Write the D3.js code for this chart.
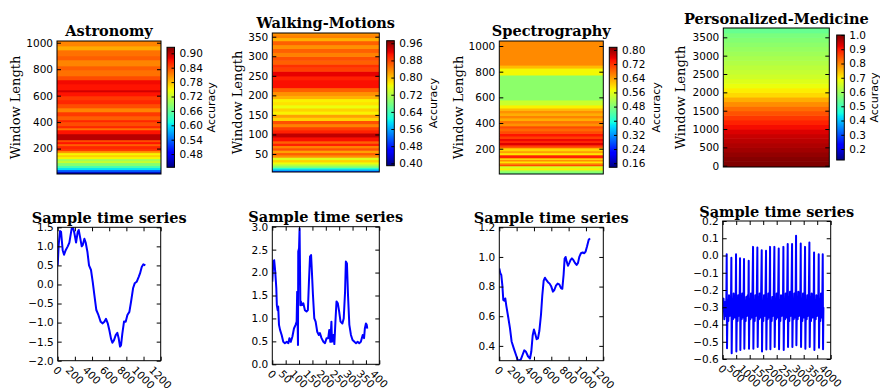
<!DOCTYPE html>
<html>
<head>
<meta charset="utf-8">
<script src="https://cdn.jsdelivr.net/npm/d3@7"></script>
<style>
  body { margin: 0; background: #fff; }
  svg { display: block; }
  .tick-label, .tick text { font-family: "DejaVu Sans", sans-serif; font-size: 10.5px; fill: #000; }
  .title { font-family: "DejaVu Serif", serif; font-weight: bold; font-size: 14.5px; }
  .ylab { font-family: "DejaVu Serif", serif; font-size: 13px; }
  .cblab { font-family: "DejaVu Sans", sans-serif; font-size: 11px; }
</style>
</head>
<body>
<svg id="chart" width="880" height="388"></svg>
<script>
'use strict'

// --------------------------------------------------------------------
// ------------------------------------------------------- DATA -------

let titles = ['Astronomy', 'Walking-Motions', 'Spectrography', 'Personalized-Medicine']

// heatmap bands : window length edges (bottom -> top) and accuracy of each band
let astroEdges = [8, 26, 42, 57, 72, 95, 110, 125, 140, 155, 170, 185, 200, 223, 238, 253, 268, 313, 343, 358,
  374, 404, 419, 449, 479, 509, 540, 570, 600, 630, 645, 690, 721, 751, 796, 826, 872, 902, 947, 977, 1013]
let astroAcc = [0.45, 0.53, 0.60, 0.64, 0.68, 0.72, 0.70, 0.75, 0.77, 0.75, 0.80, 0.85, 0.86, 0.83, 0.87, 0.84, 0.90, 0.87, 0.82, 0.86,
  0.84, 0.86, 0.83, 0.85, 0.81, 0.84, 0.86, 0.85, 0.87, 0.89, 0.87, 0.875, 0.84, 0.82, 0.83, 0.81, 0.83, 0.82, 0.79, 0.81]

let walkEdges = [4, 8, 12, 16, 20, 25, 30, 36, 42, 48, 54, 60, 66, 72, 78, 84, 94, 104, 112, 120,
  128, 136, 144, 152, 160, 168, 176, 184, 192, 200, 210, 220, 240, 250, 262, 272, 280, 290, 300, 310,
  320, 330, 340, 348, 355, 359.5]
let walkAcc = [0.50, 0.56, 0.62, 0.68, 0.72, 0.76, 0.79, 0.75, 0.83, 0.86, 0.82, 0.87, 0.84, 0.90, 0.86, 0.91, 0.94, 0.90, 0.88, 0.84,
  0.87, 0.79, 0.82, 0.77, 0.79, 0.76, 0.78, 0.77, 0.81, 0.83, 0.86, 0.91, 0.90, 0.92, 0.88, 0.89, 0.86, 0.87, 0.84, 0.86,
  0.83, 0.86, 0.81, 0.84, 0.83]

let spectroEdges = [3, 20, 36, 52, 68, 80, 91, 105, 118, 130, 142, 153, 170, 185, 208, 220, 232, 250, 265, 280,
  300, 320, 340, 360, 379, 400, 420, 441, 460, 480, 500, 518, 542, 581, 775, 829, 852, 1039]
let spectroAcc = [0.47, 0.50, 0.58, 0.55, 0.70, 0.66, 0.59, 0.65, 0.60, 0.73, 0.74, 0.59, 0.64, 0.60, 0.69, 0.72, 0.76, 0.73, 0.75, 0.71,
  0.74, 0.70, 0.68, 0.70, 0.65, 0.67, 0.63, 0.66, 0.63, 0.65, 0.62, 0.58, 0.54, 0.49, 0.575, 0.62, 0.655]

let medEdges = [-35, 125, 250, 375, 500, 625, 750, 875, 1000, 1125, 1250, 1375, 1500, 1625, 1750, 1875,
  2000, 2125, 2250, 2375, 2500, 2625, 2750, 2875, 3000, 3125, 3250, 3375, 3500, 3625, 3754]
let medAcc = [1.0, 0.995, 0.985, 0.975, 0.965, 0.955, 0.945, 0.93, 0.91, 0.89, 0.87, 0.845, 0.82, 0.79, 0.76,
  0.72, 0.70, 0.68, 0.665, 0.65, 0.64, 0.63, 0.62, 0.61, 0.60, 0.59, 0.58, 0.57, 0.56, 0.54]

// heatmap / colorbar ticks
let astroYTicks = [200, 400, 600, 800, 1000]
let walkYTicks = [50, 100, 150, 200, 250, 300, 350]
let spectroYTicks = [200, 400, 600, 800, 1000]
let medYTicks = [0, 500, 1000, 1500, 2000, 2500, 3000, 3500]
let astroCbTicks = [0.48, 0.54, 0.60, 0.66, 0.72, 0.78, 0.84, 0.90]
let walkCbTicks = [0.40, 0.48, 0.56, 0.64, 0.72, 0.80, 0.88, 0.96]
let spectroCbTicks = [0.16, 0.24, 0.32, 0.40, 0.48, 0.56, 0.64, 0.72, 0.80]
let medCbTicks = [0.2, 0.3, 0.4, 0.5, 0.6, 0.7, 0.8, 0.9, 1.0]

// sample time series [t, value]
let astroSeries = [[0,0.5],[12,1.05],[27,1.4],[39,1.38],[58,0.9],[74,0.78],[93,0.9],[117,1.0],[136,1.1],[163,1.47],
  [175,1.52],[194,1.35],[214,1.1],[233,1.38],[245,1.43],[260,1.25],[280,1.0],[291,1.03],[311,1.2],[326,1.1],
  [346,0.86],[365,0.5],[388,0.38],[408,0.07],[427,-0.27],[450,-0.67],[474,-0.8],[501,-0.98],[524,-1.02],[544,-0.98],
  [563,-0.9],[583,-1.02],[602,-1.2],[621,-1.42],[637,-1.53],[656,-1.46],[676,-1.33],[695,-1.27],[711,-1.42],[726,-1.63],
  [738,-1.59],[753,-1.29],[773,-0.97],[792,-0.98],[812,-0.8],[835,-0.72],[854,-0.46],[878,-0.1],[897,0.03],[920,0.07],
  [944,0.2],[959,0.29],[979,0.46],[998,0.53],[1021,0.5]]

let walkSeries = [[0,1.8],[4,2.24],[7,2.27],[11,2.02],[15,1.66],[17,1.29],[20,1.18],[22,1.26],[25,0.86],[29,0.75],
  [35,0.64],[41,0.49],[47,0.46],[54,0.49],[60,0.46],[64,0.57],[69,0.49],[75,0.6],[81,0.78],[87,0.86],
  [91,0.93],[93,1.58],[96,0.42],[97,2.46],[100,2.53],[102,2.96],[105,1.29],[107,1.37],[111,1.29],[116,1.33],
  [122,1.18],[128,1.15],[133,1.18],[137,1.8],[141,2.35],[145,2.38],[148,2.02],[152,1.51],[157,1.0],[162,0.93],
  [168,0.71],[174,0.64],[178,0.68],[184,0.57],[191,0.49],[197,0.46],[203,0.57],[209,0.57],[213,0.75],[217,0.49],
  [221,0.93],[223,0.49],[228,0.64],[232,0.44],[236,0.93],[240,1.37],[245,1.33],[250,1.15],[255,0.93],[262,0.89],
  [267,1.0],[272,1.58],[275,2.24],[279,2.2],[283,1.51],[288,0.86],[294,0.64],[300,0.53],[307,0.49],[313,0.46],
  [319,0.49],[325,0.46],[331,0.49],[338,0.64],[343,0.57],[346,0.78],[350,0.89],[353,0.86],[355,0.78]]

let spectroSeries = [[0,0.923],[12,0.89],[23,0.878],[35,0.81],[46,0.71],[58,0.705],[69,0.72],[81,0.67],[104,0.59],[123,0.52],
  [142,0.43],[169,0.38],[192,0.34],[212,0.305],[231,0.30],[250,0.31],[269,0.34],[288,0.37],[308,0.36],[331,0.33],
  [354,0.315],[369,0.36],[385,0.47],[400,0.51],[415,0.48],[431,0.445],[446,0.45],[462,0.50],[481,0.61],[496,0.74],
  [512,0.84],[527,0.86],[542,0.845],[562,0.83],[581,0.82],[600,0.80],[619,0.766],[635,0.777],[654,0.806],[673,0.82],
  [692,0.815],[712,0.79],[727,0.785],[742,0.88],[754,0.99],[765,1.0],[777,0.97],[792,0.94],[808,0.96],[823,0.98],
  [838,0.99],[854,0.98],[873,0.96],[892,0.946],[908,0.96],[923,1.0],[942,1.025],[962,1.03],[981,1.025],[996,1.036],
  [1012,1.07],[1031,1.115],[1046,1.126]]

let medSeries = [[0,-0.31],[30,-0.25],[60,-0.37],[90,-0.27],[115,-0.35],[136,-0.24],
  [148,0.007],[160,-0.538],[183,-0.26],[208,-0.38],[233,-0.23],[258,-0.35],[283,-0.27],[304,-0.34],
  [321,-0.013],[333,-0.567],[356,-0.25],[381,-0.37],[406,-0.22],[431,-0.36],[456,-0.26],[478,-0.33],
  [494,0.007],[506,-0.557],[529,-0.27],[552,-0.38],[575,-0.23],[598,-0.35],[624,-0.28],
  [642,-0.016],[654,-0.548],[677,-0.25],[700,-0.37],[723,-0.22],[748,-0.36],[772,-0.27],
  [790,-0.02],[802,-0.54],[825,-0.26],[850,-0.38],[875,-0.24],[900,-0.35],[925,-0.23],[947,-0.34],
  [963,-0.03],[975,-0.54],[998,-0.25],[1023,-0.37],[1048,-0.22],[1073,-0.36],[1098,-0.28],
  [1124,0.05],[1136,-0.54],[1159,-0.26],[1184,-0.38],[1209,-0.23],[1234,-0.35],[1259,-0.27],
  [1284,0.047],[1296,-0.53],[1319,-0.24],[1344,-0.37],[1369,-0.22],[1394,-0.36],[1420,-0.26],
  [1445,0.03],[1457,-0.557],[1480,-0.27],[1505,-0.38],[1530,-0.23],[1555,-0.35],[1580,-0.28],
  [1605,0.028],[1617,-0.545],[1640,-0.25],[1665,-0.37],[1690,-0.22],[1715,-0.36],[1736,-0.27],
  [1754,0.05],[1766,-0.543],[1789,-0.26],[1814,-0.38],[1839,-0.24],[1864,-0.35],[1890,-0.23],
  [1914,0.05],[1926,-0.53],[1949,-0.25],[1974,-0.37],[1999,-0.22],[2024,-0.36],[2050,-0.27],
  [2075,0.04],[2087,-0.543],[2110,-0.26],[2135,-0.38],[2160,-0.23],[2185,-0.35],[2210,-0.24],[2230,-0.33],
  [2248,0.05],[2260,-0.548],[2283,-0.25],[2308,-0.37],[2333,-0.22],[2358,-0.36],[2384,-0.27],
  [2408,0.067],[2420,-0.53],[2443,-0.24],[2468,-0.38],[2493,-0.21],[2518,-0.35],[2544,-0.26],
  [2569,0.067],[2581,-0.53],[2604,-0.25],[2629,-0.37],[2654,-0.22],[2679,-0.36],[2700,-0.27],
  [2717,0.115],[2729,-0.52],[2752,-0.24],[2777,-0.37],[2802,-0.21],[2827,-0.35],[2852,-0.25],[2872,-0.33],
  [2890,0.07],[2902,-0.53],[2925,-0.25],[2950,-0.38],[2975,-0.22],[3000,-0.36],[3026,-0.27],
  [3050,0.05],[3062,-0.54],[3085,-0.26],[3110,-0.37],[3135,-0.23],[3160,-0.35],[3186,-0.28],
  [3211,0.076],[3223,-0.53],[3246,-0.24],[3271,-0.38],[3296,-0.22],[3321,-0.36],[3346,-0.25],[3366,-0.33],
  [3384,0.018],[3396,-0.548],[3419,-0.26],[3444,-0.37],[3469,-0.23],[3494,-0.35],[3520,-0.27],[3538,-0.34],
  [3556,0.007],[3568,-0.535],[3591,-0.25],[3616,-0.38],[3641,-0.22],[3666,-0.36],[3688,-0.28],
  [3705,0.007],[3717,-0.543],[3730,-0.30]]

let astroXTicks = [0, 200, 400, 600, 800, 1000, 1200]
let walkXTicks = [0, 50, 100, 150, 200, 250, 300, 350, 400]
let spectroXTicks = [0, 200, 400, 600, 800, 1000, 1200]
let medXTicks = [0, 500, 1000, 1500, 2000, 2500, 3000, 3500, 4000]
let astroSYTicks = [-2.0, -1.5, -1.0, -0.5, 0.0, 0.5, 1.0, 1.5]
let walkSYTicks = [0.0, 0.5, 1.0, 1.5, 2.0, 2.5, 3.0]
let spectroSYTicks = [0.4, 0.6, 0.8, 1.0, 1.2]
let medSYTicks = [-0.6, -0.5, -0.4, -0.3, -0.2, -0.1, 0.0, 0.1, 0.2]

// --------------------------------------------------------------------
// ------------------------------------------------- COLOR MAP --------

// matplotlib "jet" segment data
let jetR = d3.scaleLinear().domain([0, 0.35, 0.66, 0.89, 1]).range([0, 0, 1, 1, 0.5]).clamp(true)
let jetG = d3.scaleLinear().domain([0, 0.125, 0.375, 0.64, 0.91, 1]).range([0, 0, 1, 1, 0, 0]).clamp(true)
let jetB = d3.scaleLinear().domain([0, 0.11, 0.34, 0.65, 1]).range([0.5, 1, 1, 0, 0]).clamp(true)
let jetStops = [0, 0.11, 0.125, 0.34, 0.35, 0.375, 0.64, 0.65, 0.66, 0.89, 0.91, 1]

function jet(t) {
  return d3.rgb(jetR(t)*255, jetG(t)*255, jetB(t)*255).formatHex()
}

let svg = d3.select('#chart')
let defs = svg.append('defs')

let grad = defs.append('linearGradient')
  .attr('id', 'jetGrad')
  .attr('x1', 0).attr('y1', 1).attr('x2', 0).attr('y2', 0)
grad.selectAll('stop').data(jetStops).enter()
  .append('stop')
    .attr('offset', d => d)
    .attr('stop-color', d => jet(d))

// --------------------------------------------------------------------
// ---------------------------------------------------- LAYOUT --------

let heatmaps = [
  {edges: astroEdges, acc: astroAcc, yTicks: astroYTicks, cbTicks: astroCbTicks, cbFmt: '.2f',
   left: 57, right: 161, top: 41, bottom: 174, yDomain: [8, 1013],
   cb: {left: 167, right: 174.5, top: 47.3, bottom: 167.3}, cDomain: [0.425, 0.925],
   titleY: 36, ylabX: 15, accX: 211},
  {edges: walkEdges, acc: walkAcc, yTicks: walkYTicks, cbTicks: walkCbTicks, cbFmt: '.2f',
   left: 272.3, right: 379.3, top: 33, bottom: 172, yDomain: [4, 359.5],
   cb: {left: 386.7, right: 394.3, top: 40.7, bottom: 165.7}, cDomain: [0.389, 0.972],
   titleY: 28, ylabX: 237, accX: 433},
  {edges: spectroEdges, acc: spectroAcc, yTicks: spectroYTicks, cbTicks: spectroCbTicks, cbFmt: '.2f',
   left: 499.3, right: 603.3, top: 41, bottom: 174, yDomain: [3, 1039],
   cb: {left: 609.3, right: 617, top: 47.3, bottom: 167.3}, cDomain: [0.137, 0.815],
   titleY: 36, ylabX: 458, accX: 656},
  {edges: medEdges, acc: medAcc, yTicks: medYTicks, cbTicks: medCbTicks, cbFmt: '.1f',
   left: 723.3, right: 829.3, top: 28, bottom: 167, yDomain: [-35, 3754],
   cb: {left: 836.7, right: 844.3, top: 35, bottom: 160}, cDomain: [0.123, 1.0],
   titleY: 24, ylabX: 680, accX: 874}
]

let series = [
  {data: astroSeries, xTicks: astroXTicks, yTicks: astroSYTicks, xDomain: [0, 1200], yDomain: [-2, 1.5],
   left: 57.7, right: 160.7, top: 227.3, bottom: 360.7, titleY: 223},
  {data: walkSeries, xTicks: walkXTicks, yTicks: walkSYTicks, xDomain: [0, 400], yDomain: [0, 3],
   left: 272.3, right: 379.3, top: 226.7, bottom: 364.3, titleY: 222},
  {data: spectroSeries, xTicks: spectroXTicks, yTicks: spectroSYTicks, xDomain: [0, 1200], yDomain: [0.3, 1.2],
   left: 499.3, right: 603.3, top: 227.3, bottom: 360.7, titleY: 223},
  {data: medSeries, xTicks: medXTicks, yTicks: medSYTicks, xDomain: [0, 4000], yDomain: [-0.6, 0.2],
   left: 722.7, right: 830.7, top: 221, bottom: 359, titleY: 217}
]

function styleAxis(g) {
  g.select('.domain').remove()
  g.attr('font-family', null).attr('font-size', null)
  g.selectAll('line').attr('stroke', '#000')
}

function frame(g, p) {
  g.append('rect')
    .attr('x', p.left).attr('y', p.top)
    .attr('width', p.right - p.left).attr('height', p.bottom - p.top)
    .attr('fill', 'none').attr('stroke', '#000').attr('stroke-width', 1)
}

// --------------------------------------------------------------------
// -------------------------------------------------- HEATMAPS --------

function drawHeatmap(p, i) {
  let g = svg.append('g')
  let y = d3.scaleLinear().domain(p.yDomain).range([p.bottom, p.top])
  let cScale = d3.scaleLinear().domain(p.cDomain).range([0, 1])

  defs.append('clipPath').attr('id', 'hclip' + i)
    .append('rect')
      .attr('x', p.left).attr('y', p.top)
      .attr('width', p.right - p.left).attr('height', p.bottom - p.top)

  g.append('g').attr('clip-path', 'url(#hclip' + i + ')')
    .selectAll('rect').data(p.acc).enter()
    .append('rect')
      .attr('x', p.left)
      .attr('width', p.right - p.left)
      .attr('y', (d, k) => y(p.edges[k+1]))
      .attr('height', (d, k) => y(p.edges[k]) - y(p.edges[k+1]) + 0.6)
      .attr('fill', d => jet(cScale(d)))

  frame(g, p)

  g.append('g')
    .attr('transform', 'translate(' + p.left + ',0)')
    .call(d3.axisLeft(y).tickValues(p.yTicks).tickSize(-4).tickPadding(4).tickFormat(d3.format('d')))
    .call(styleAxis)
  g.append('g')
    .attr('transform', 'translate(' + p.right + ',0)')
    .call(d3.axisRight(y).tickValues(p.yTicks).tickSize(-4).tickFormat(''))
    .call(styleAxis)

  g.append('text').attr('class', 'title')
    .attr('x', (p.left + p.right)/2).attr('y', p.titleY)
    .attr('text-anchor', 'middle')
    .text(titles[i])

  g.append('text').attr('class', 'ylab')
    .attr('transform', 'translate(' + p.ylabX + ',' + (p.top + p.bottom)/2 + ') rotate(-90)')
    .attr('text-anchor', 'middle').attr('dominant-baseline', 'central')
    .text('Window Length')

  // --- colorbar
  let cb = p.cb
  let cy = d3.scaleLinear().domain(p.cDomain).range([cb.bottom, cb.top])
  g.append('rect')
    .attr('x', cb.left).attr('y', cb.top)
    .attr('width', cb.right - cb.left).attr('height', cb.bottom - cb.top)
    .attr('fill', 'url(#jetGrad)')
  frame(g, cb)
  g.append('g')
    .attr('transform', 'translate(' + cb.right + ',0)')
    .call(d3.axisRight(cy).tickValues(p.cbTicks).tickSize(-3).tickPadding(5).tickFormat(d3.format(p.cbFmt)))
    .call(styleAxis)

  g.append('text').attr('class', 'cblab')
    .attr('transform', 'translate(' + p.accX + ',' + (cb.top + cb.bottom)/2 + ') rotate(-90)')
    .attr('text-anchor', 'middle').attr('dominant-baseline', 'central')
    .text('Accuracy')
}

// --------------------------------------------------------------------
// ----------------------------------------------- TIME SERIES --------

function drawSeries(p, i) {
  let g = svg.append('g')
  let x = d3.scaleLinear().domain(p.xDomain).range([p.left, p.right])
  let y = d3.scaleLinear().domain(p.yDomain).range([p.bottom, p.top])

  defs.append('clipPath').attr('id', 'sclip' + i)
    .append('rect')
      .attr('x', p.left).attr('y', p.top)
      .attr('width', p.right - p.left).attr('height', p.bottom - p.top)

  let line = d3.line()
    .x(d => x(d[0]))
    .y(d => y(d[1]))

  g.append('path')
    .attr('clip-path', 'url(#sclip' + i + ')')
    .attr('d', line(p.data))
    .attr('fill', 'none')
    .attr('stroke', '#0000ff')
    .attr('stroke-width', 2)
    .attr('stroke-linejoin', 'round')

  frame(g, p)

  g.append('g')
    .attr('transform', 'translate(' + p.left + ',0)')
    .call(d3.axisLeft(y).tickValues(p.yTicks).tickSize(-4).tickPadding(4).tickFormat(d3.format('.1f')))
    .call(styleAxis)
  g.append('g')
    .attr('transform', 'translate(' + p.right + ',0)')
    .call(d3.axisRight(y).tickValues(p.yTicks).tickSize(-4).tickFormat(''))
    .call(styleAxis)
  g.append('g')
    .attr('transform', 'translate(0,' + p.bottom + ')')
    .call(d3.axisBottom(x).tickValues(p.xTicks).tickSize(-4).tickFormat(''))
    .call(styleAxis)
  g.append('g')
    .attr('transform', 'translate(0,' + p.top + ')')
    .call(d3.axisTop(x).tickValues(p.xTicks).tickSize(-4).tickFormat(''))
    .call(styleAxis)

  // rotated x labels (bbox centred under the tick)
  p.xTicks.forEach(t => {
    let txt = g.append('text').attr('class', 'tick-label')
      .attr('text-anchor', 'middle').attr('dominant-baseline', 'central')
      .text(d3.format('d')(t))
    let w = txt.node().getComputedTextLength()
    let half = (w + 10.5*1.16) * Math.SQRT1_2 / 2
    txt.attr('transform', 'translate(' + x(t) + ',' + (p.bottom + 3 + half) + ') rotate(45)')
  })

  g.append('text').attr('class', 'title')
    .attr('x', (p.left + p.right)/2).attr('y', p.titleY)
    .attr('text-anchor', 'middle')
    .text('Sample time series')
}

heatmaps.forEach(drawHeatmap)
series.forEach(drawSeries)
</script>
</body>
</html>
